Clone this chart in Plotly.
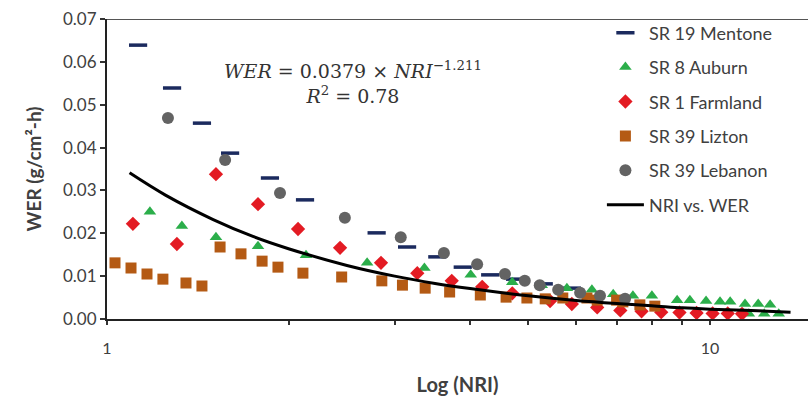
import plotly.graph_objects as go

# ---- data ----
mentone_nri = [1.126, 1.282, 1.437, 1.60, 1.863, 2.13, 2.80, 3.145, 3.53, 3.89, 4.32, 4.75, 5.3, 5.9]
mentone_wer = [0.0639, 0.0539, 0.0457, 0.0387, 0.0329, 0.0278, 0.0201, 0.0168, 0.0145, 0.0121, 0.0103, 0.0093, 0.0082, 0.0072]

auburn_nri = [1.178, 1.331, 1.516, 1.78, 2.138, 2.70, 3.36, 4.01, 4.70, 5.26, 5.79, 6.37, 6.91, 7.45,
              8.01, 8.82, 9.26, 9.85, 10.39, 10.8, 11.43, 12.02, 12.58, 11.6, 12.3, 13.0]
auburn_wer = [0.0250, 0.0217, 0.0191, 0.0170, 0.0149, 0.0131, 0.0119, 0.0103, 0.0086, 0.0079, 0.0072, 0.0068, 0.0058, 0.0054,
              0.0054, 0.0044, 0.0044, 0.0042, 0.0040, 0.0040, 0.0035, 0.0035, 0.0033, 0.0012, 0.0012, 0.0012]

farmland_nri = [1.104, 1.306, 1.516, 1.78, 2.074, 2.435, 2.847, 3.27, 3.73, 4.19, 4.7, 5.43, 5.9, 6.5,
                7.1, 7.7, 8.3, 8.9, 9.5, 10.1, 10.7, 11.3]
farmland_wer = [0.0222, 0.0175, 0.0338, 0.0268, 0.0210, 0.0166, 0.0131, 0.0107, 0.0089, 0.0075, 0.0060, 0.0042, 0.0035, 0.0027,
                0.0020, 0.0018, 0.0016, 0.0015, 0.0014, 0.0013, 0.0013, 0.0012]

lizton_nri = [1.031, 1.096, 1.165, 1.238, 1.352, 1.437, 1.54, 1.668, 1.808, 1.921, 2.113, 2.45, 2.856, 3.09,
              3.37, 3.70, 4.16, 4.59, 4.97, 5.33, 5.7, 6.25, 6.5, 7.0, 7.17, 7.65, 8.1]
lizton_wer = [0.0131, 0.0119, 0.0105, 0.0093, 0.0084, 0.0077, 0.0168, 0.0152, 0.0135, 0.0121, 0.0107, 0.0098, 0.0089, 0.0079,
              0.0072, 0.0063, 0.0056, 0.0051, 0.0049, 0.0047, 0.0049, 0.0049, 0.0044, 0.0044, 0.0040, 0.0033, 0.0030]

lebanon_nri = [1.262, 1.57, 1.936, 2.48, 3.07, 3.62, 4.11, 4.57, 4.93, 5.22, 5.60, 6.09, 6.57, 7.23]
lebanon_wer = [0.0469, 0.0371, 0.0294, 0.0236, 0.0191, 0.0154, 0.0128, 0.0105, 0.0089, 0.0079, 0.0068, 0.0061, 0.0054, 0.0047]

fit_nri = [1.09, 1.25, 1.5, 1.75, 2, 2.5, 3, 3.5, 4, 5, 6, 7, 8, 9, 10, 11, 12, 13.6]
fit_wer = [0.0341, 0.0289, 0.0232, 0.0192, 0.0164, 0.0125, 0.0100, 0.0083, 0.0071, 0.0054, 0.0043,
           0.0036, 0.0031, 0.0026, 0.0023, 0.0021, 0.0019, 0.0016]

x_tickvals = [1, 2, 3, 4, 5, 6, 7, 8, 9, 10]
x_ticktext = ["1", "", "", "", "", "", "", "", "", "10"]
y_tickvals = [0.00, 0.01, 0.02, 0.03, 0.04, 0.05, 0.06, 0.07]

FONT = "Lato, 'Open Sans', sans-serif"
TXT = "#404040"

fig = go.Figure()

fig.add_trace(go.Scatter(x=mentone_nri, y=mentone_wer, mode="markers", name="SR 19 Mentone",
                         legendgroup="a",
                         marker=dict(symbol="line-ew", size=13, color="#1B2A5E",
                                     line=dict(color="#1B2A5E", width=3.5))))
fig.add_trace(go.Scatter(x=auburn_nri, y=auburn_wer, mode="markers", name="SR 8 Auburn",
                         legendgroup="b",
                         marker=dict(symbol="triangle-up", size=11, color="#2BAE4A", line=dict(width=0))))
fig.add_trace(go.Scatter(x=farmland_nri, y=farmland_wer, mode="markers", name="SR 1 Farmland",
                         legendgroup="c",
                         marker=dict(symbol="diamond", size=11, color="#E31B23", line=dict(width=0))))
fig.add_trace(go.Scatter(x=lizton_nri, y=lizton_wer, mode="markers", name="SR 39 Lizton",
                         legendgroup="d",
                         marker=dict(symbol="square", size=11, color="#B45A14", line=dict(width=0))))
fig.add_trace(go.Scatter(x=lebanon_nri, y=lebanon_wer, mode="markers", name="SR 39 Lebanon",
                         legendgroup="e",
                         marker=dict(symbol="circle", size=12, color="#636363", line=dict(width=0))))
fig.add_trace(go.Scatter(x=fit_nri, y=fit_wer, mode="lines", name="NRI vs. WER",
                         legendgroup="f", line=dict(color="black", width=3, shape="spline")))

# x is in log10 units on the log axis
fig.add_annotation(
    x=0.408, y=0.0553, xref="x", yref="y",
    text="<i>WER</i> = 0.0379 × <i>NRI</i><sup>−1.211</sup><br><i>R</i><sup>2</sup> = 0.78",
    showarrow=False, align="center",
    font=dict(family="'DejaVu Serif', 'Liberation Serif', serif", size=19, color="#333333"),
)

fig.update_layout(
    width=809, height=399,
    margin=dict(l=107, r=1, t=19, b=80),
    paper_bgcolor="white", plot_bgcolor="white",
    font=dict(family=FONT, color=TXT, size=16),
    showlegend=True,
    legend=dict(x=0.706, y=1.015, xanchor="left", yanchor="top",
                bgcolor="rgba(0,0,0,0)", tracegroupgap=8, itemwidth=37,
                maxheight=399,
                font=dict(family=FONT, size=18, color=TXT)),
    xaxis=dict(type="log", range=[0, 1.1625],
               tickvals=x_tickvals, ticktext=x_ticktext,
               ticks="outside", ticklen=4, tickwidth=1.5, tickcolor="#333333",
               ticklabelstandoff=10,
               showline=True, linecolor="#222222", linewidth=2,
               showgrid=False, zeroline=False,
               tickfont=dict(family=FONT, size=16, color=TXT),
               title=dict(text="<b>Log (NRI)</b>", font=dict(family=FONT, size=20, color=TXT), standoff=22)),
    yaxis=dict(range=[0, 0.07], tickvals=y_tickvals, tickformat=".2f",
               ticks="outside", ticklen=5, tickwidth=1.5, tickcolor="#333333",
               showline=True, linecolor="#222222", linewidth=2,
               showgrid=False, zeroline=False, mirror=False,
               tickfont=dict(family=FONT, size=17, color=TXT),
               title=dict(text="<b>WER (g/cm²-h)</b>", font=dict(family=FONT, size=19, color=TXT), standoff=16)),
)

# top border of plot area
fig.add_shape(type="line", xref="paper", yref="y", x0=0, x1=1, y0=0.07, y1=0.07,
              line=dict(color="#555555", width=2))

fig.write_html("out.html")
